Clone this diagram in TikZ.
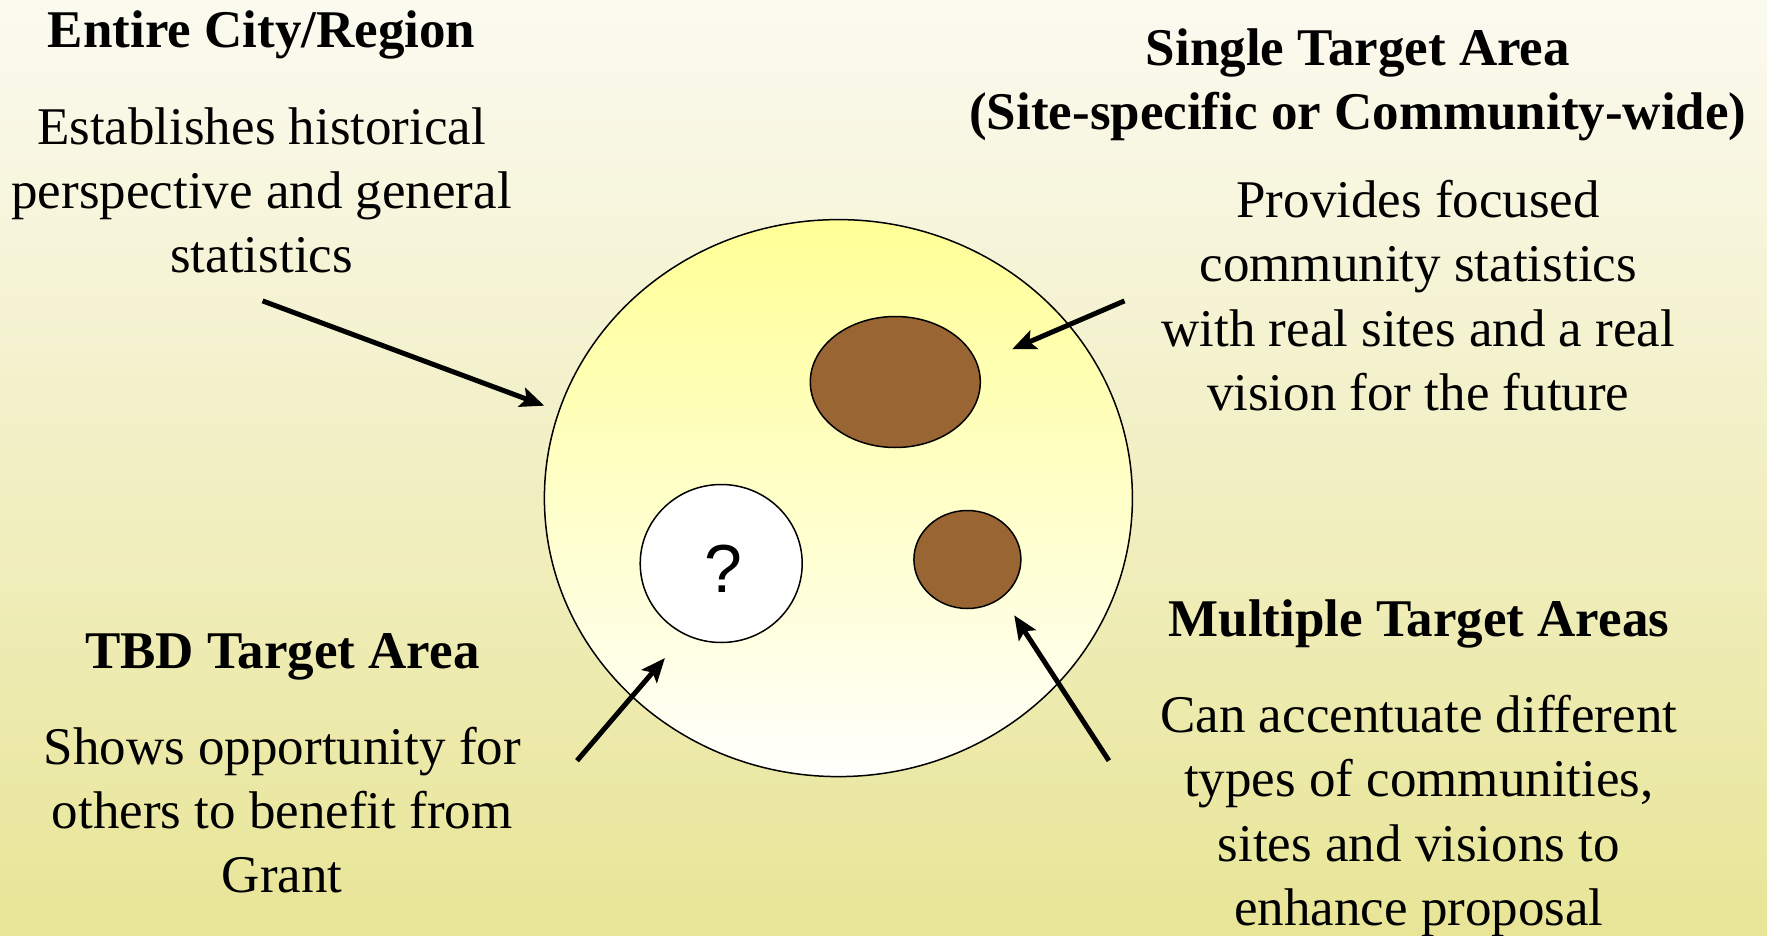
\documentclass[tikz,border=0pt]{standalone}
\usepackage{fontspec}
\setmainfont{Liberation Serif}
\newfontfamily\qfont{Liberation Sans}
\usetikzlibrary{arrows.meta,shapes.geometric}
\definecolor{bgtop}{RGB}{251,250,240}
\definecolor{bgbot}{RGB}{232,229,151}
\definecolor{ctop}{RGB}{255,255,150}
\definecolor{cbot}{RGB}{255,255,252}
\definecolor{brownfill}{RGB}{153,102,51}
\tikzset{
  txt/.style={anchor=base, inner sep=0pt, font=\fontsize{53}{64}\selectfont},
  hdr/.style={txt, font=\fontsize{53}{64}\selectfont\bfseries},
  blob/.style={ellipse, draw=black, line width=1.5pt, inner sep=0pt},
  pointer/.style={line width=5pt, -{Stealth[length=24pt,width=20pt,inset=5pt]}}
}
\begin{document}
\begin{tikzpicture}[x=1pt,y=-1pt]
\useasboundingbox (0,0) rectangle (1767,936);
\shade[top color=bgtop, bottom color=bgbot] (0,0) rectangle (1767,936);

% main circle and areas
\node[blob, top color=ctop, bottom color=cbot, minimum width=588pt, minimum height=557pt] (city) at (838.4,498.1) {};
\node[blob, fill=brownfill, minimum width=170pt, minimum height=131pt] (single) at (895.3,382.0) {};
\node[blob, fill=brownfill, minimum width=107pt, minimum height=98pt] (multi) at (967.4,559.5) {};
\node[blob, fill=white, minimum width=162pt, minimum height=158pt] (tbd) at (721.2,563.5) {};
\node[font=\qfont\fontsize{68}{80}\selectfont, inner sep=0pt] (q) at (723.5,569) {?};

% top-left text
\node[hdr] (tlh) at (261.6,47.3) {Entire City/Region};
\node[txt] (tl1) at (261.6,144.2) {Establishes historical};
\node[txt] (tl2) at (261.6,208.5) {perspective and general};
\node[txt] (tl3) at (261.6,272.7) {statistics};

% top-right text
\node[hdr] (trh1) at (1357.9,65.4) {Single Target Area};
\node[hdr] (trh2) at (1357.9,129.6) {(Site-specific or Community-wide)};
\node[txt] (tr1) at (1418.2,217.5) {Provides focused};
\node[txt] (tr2) at (1418.2,281.7) {community statistics};
\node[txt] (tr3) at (1418.2,346.0) {with real sites and a real};
\node[txt] (tr4) at (1418.2,410.2) {vision for the future};

% bottom-left text
\node[hdr] (blh) at (282.3,668.3) {TBD Target Area};
\node[txt] (bl1) at (282.3,764.0) {Shows opportunity for};
\node[txt] (bl2) at (282.3,828.3) {others to benefit from};
\node[txt] (bl3) at (282.3,892.5) {Grant};

% bottom-right text
\node[hdr] (brh) at (1418.8,636.7) {Multiple Target Areas};
\node[txt] (br1) at (1418.8,732.5) {Can accentuate different};
\node[txt] (br2) at (1418.8,796.7) {types of communities,};
\node[txt] (br3) at (1418.8,861.0) {sites and visions to};
\node[txt] (br4) at (1418.8,925.2) {enhance proposal};

% arrow end points
\coordinate (a1s) at (262.6,300.9);
\coordinate (a1e) at (544.3,405.7);
\coordinate (a2s) at (1124.5,300.9);
\coordinate (a2e) at (1012.0,349.3);
\coordinate (a3s) at (577.0,760.7);
\coordinate (a3e) at (664.9,658.1);
\coordinate (a4s) at (1108.9,760.7);
\coordinate (a4e) at (1014.2,615.3);

\draw[pointer] (a1s) -- (a1e);
\draw[pointer] (a2s) -- (a2e);
\draw[pointer] (a3s) -- (a3e);
\draw[pointer] (a4s) -- (a4e);
\end{tikzpicture}
\end{document}
